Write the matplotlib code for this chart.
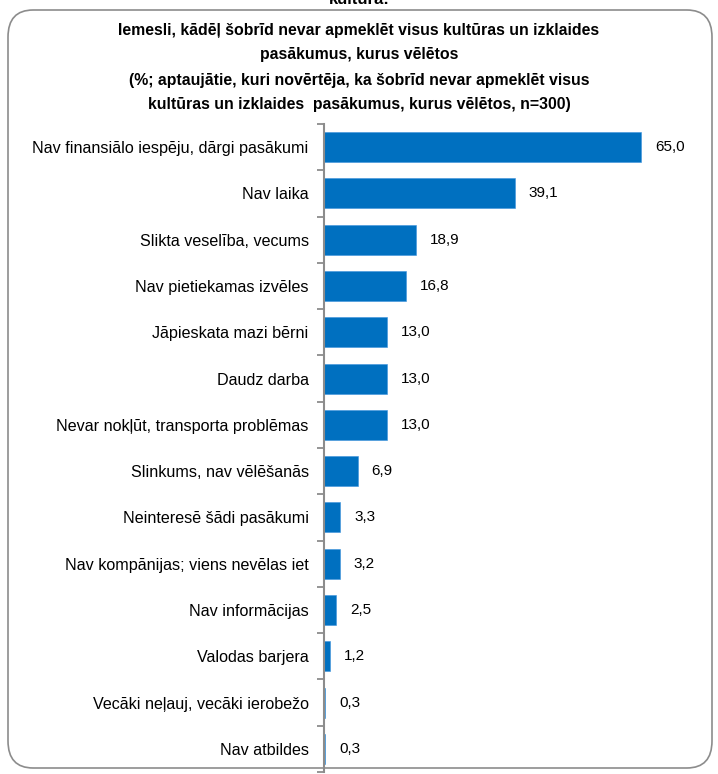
import numpy as np
import matplotlib.pyplot as plt
from matplotlib.patches import FancyBboxPatch

plt.rcParams['font.family'] = ['Liberation Sans Narrow', 'Liberation Sans', 'DejaVu Sans']

# iemesli un procenti
reasons = [
    'Nav finansiālo iespēju, dārgi pasākumi',
    'Nav laika',
    'Slikta veselība, vecums',
    'Nav pietiekamas izvēles',
    'Jāpieskata mazi bērni',
    'Daudz darba',
    'Nevar nokļūt, transporta problēmas',
    'Slinkums, nav vēlēšanās',
    'Neinteresē šādi pasākumi',
    'Nav kompānijas; viens nevēlas iet',
    'Nav informācijas',
    'Valodas barjera',
    'Vecāki neļauj, vecāki ierobežo',
    'Nav atbildes',
]
values = [65.0, 39.1, 18.9, 16.8, 13.0, 13.0, 13.0, 6.9, 3.3, 3.2, 2.5, 1.2, 0.3, 0.3]

title_lines = [
    'Iemesli, kādēļ šobrīd nevar apmeklēt visus kultūras un izklaides',
    'pasākumus, kurus vēlētos',
    '(%; aptaujātie, kuri novērtēja, ka šobrīd nevar apmeklēt visus',
    'kultūras un izklaides  pasākumus, kurus vēlētos, n=300)',
]

fig = plt.figure(figsize=(7.18, 7.74), dpi=100)

# noapaļots rāmis ap visu diagrammu
frame = FancyBboxPatch((8 / 718, 6 / 774), 704 / 718, 758 / 774,
                       boxstyle='round,pad=0,rounding_size=0.035',
                       transform=fig.transFigure, facecolor='none',
                       edgecolor='#8c8c8c', linewidth=1.2, zorder=-1)
fig.patches.append(frame)

# iepriekšējā virsraksta aste augšā
fig.text(0.5, 1 - 4 / 774, 'kultūrā:', ha='center', va='baseline',
         fontsize=12, fontweight='bold')

# virsraksts pa rindām, 25 px atstarpe
for i, line in enumerate(title_lines):
    fig.text(0.5, 1 - (30 + 25 * i) / 774, line, ha='center', va='center',
             fontsize=11.4, fontweight='bold')

# ass no 124 px līdz 772 px no augšas
ax = fig.add_axes([324 / 718, 2 / 774, 366 / 718, 648 / 774])
ax.set_ylim(len(reasons), 0)
ax.set_xlim(0, 75)

y = np.arange(len(reasons)) + 0.5
ax.barh(y, values, height=0.65, color='#0070c0', edgecolor='#3d93dc', linewidth=0.4)

for yy, v in zip(y, values):
    ax.annotate(f'{v:.1f}'.replace('.', ','), (v, yy), xytext=(10, 0),
                textcoords='offset points', ha='left', va='center', fontsize=11)

ax.set_yticks(y)
ax.set_yticklabels(reasons, fontsize=11.6)
ax.tick_params(axis='y', which='major', length=0, pad=11)
ax.set_yticks(np.arange(len(reasons) + 1), minor=True)
ax.tick_params(axis='y', which='minor', length=5, width=1.3, color='#8c8c8c', direction='out')
ax.set_xticks([])

for s in ['top', 'right', 'bottom']:
    ax.spines[s].set_visible(False)
ax.spines['left'].set_color('#8c8c8c')
ax.spines['left'].set_linewidth(1.5)
ax.spines['left'].set_zorder(3)
ax.patch.set_visible(False)

fig.savefig('out.png', dpi=100)
